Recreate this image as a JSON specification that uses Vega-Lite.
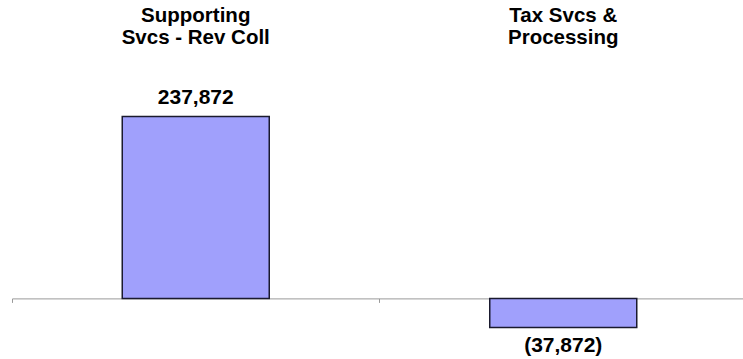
{
  "$schema": "https://vega.github.io/schema/vega-lite/v6.json",
  "autosize": "none",
  "width": 735,
  "height": 307,
  "padding": {"left": 12, "top": 52, "right": 0, "bottom": 0},
  "background": "white",
  "config": {"view": {"stroke": null}, "font": "Liberation Sans"},
  "data": {
    "values": [
      {"category": "Supporting|Svcs - Rev Coll", "value": 237872, "label": "237,872"},
      {"category": "Tax Svcs &|Processing", "value": -37872, "label": "(37,872)"}
    ]
  },
  "resolve": {"axis": {"x": "independent"}},
  "layer": [
    {
      "mark": {"type": "bar", "width": {"band": 0.4}, "fill": "#a0a0fc", "stroke": "#1a1a2e", "strokeWidth": 1.5},
      "encoding": {
        "x": {
          "field": "category", "type": "nominal", "sort": null, "title": null,
          "scale": {"paddingInner": 0, "paddingOuter": 0},
          "axis": {
            "orient": "top",
            "ticks": false,
            "domain": false,
            "grid": false,
            "labelAngle": 0,
            "labelExpr": "split(datum.label, '|')",
            "labelFont": "Liberation Sans",
            "labelFontSize": 20.5,
            "labelFontWeight": "bold",
            "labelColor": "#000000",
            "labelLineHeight": 21.5,
            "labelPadding": 26.5,
            "labelLimit": 0
          }
        },
        "y": {
          "field": "value",
          "type": "quantitative",
          "scale": {"domain": [-79200, 322000], "nice": false, "zero": false},
          "axis": null
        }
      }
    },
    {
      "mark": {"type": "tick", "opacity": 0},
      "encoding": {
        "x": {
          "field": "category", "type": "nominal", "sort": null, "title": null,
          "axis": {
            "orient": "bottom",
            "labels": false,
            "bandPosition": 0,
            "ticks": true,
            "tickSize": 4,
            "tickColor": "#9a9a9a",
            "domainColor": "#9a9a9a",
            "domainWidth": 1,
            "grid": false,
            "offset": -60.6
          }
        },
        "y": {"field": "value", "type": "quantitative"}
      }
    },
    {
      "transform": [{"filter": "datum.value >= 0"}],
      "mark": {"type": "text", "baseline": "bottom", "dy": -8, "font": "Liberation Sans", "fontSize": 21, "fontWeight": "bold", "color": "#000000"},
      "encoding": {
        "x": {"field": "category", "type": "nominal", "sort": null, "axis": null},
        "y": {"field": "value", "type": "quantitative"},
        "text": {"field": "label"}
      }
    },
    {
      "transform": [{"filter": "datum.value < 0"}],
      "mark": {"type": "text", "baseline": "top", "dy": 7.5, "font": "Liberation Sans", "fontSize": 21, "fontWeight": "bold", "color": "#000000"},
      "encoding": {
        "x": {"field": "category", "type": "nominal", "sort": null, "axis": null},
        "y": {"field": "value", "type": "quantitative"},
        "text": {"field": "label"}
      }
    }
  ]
}
